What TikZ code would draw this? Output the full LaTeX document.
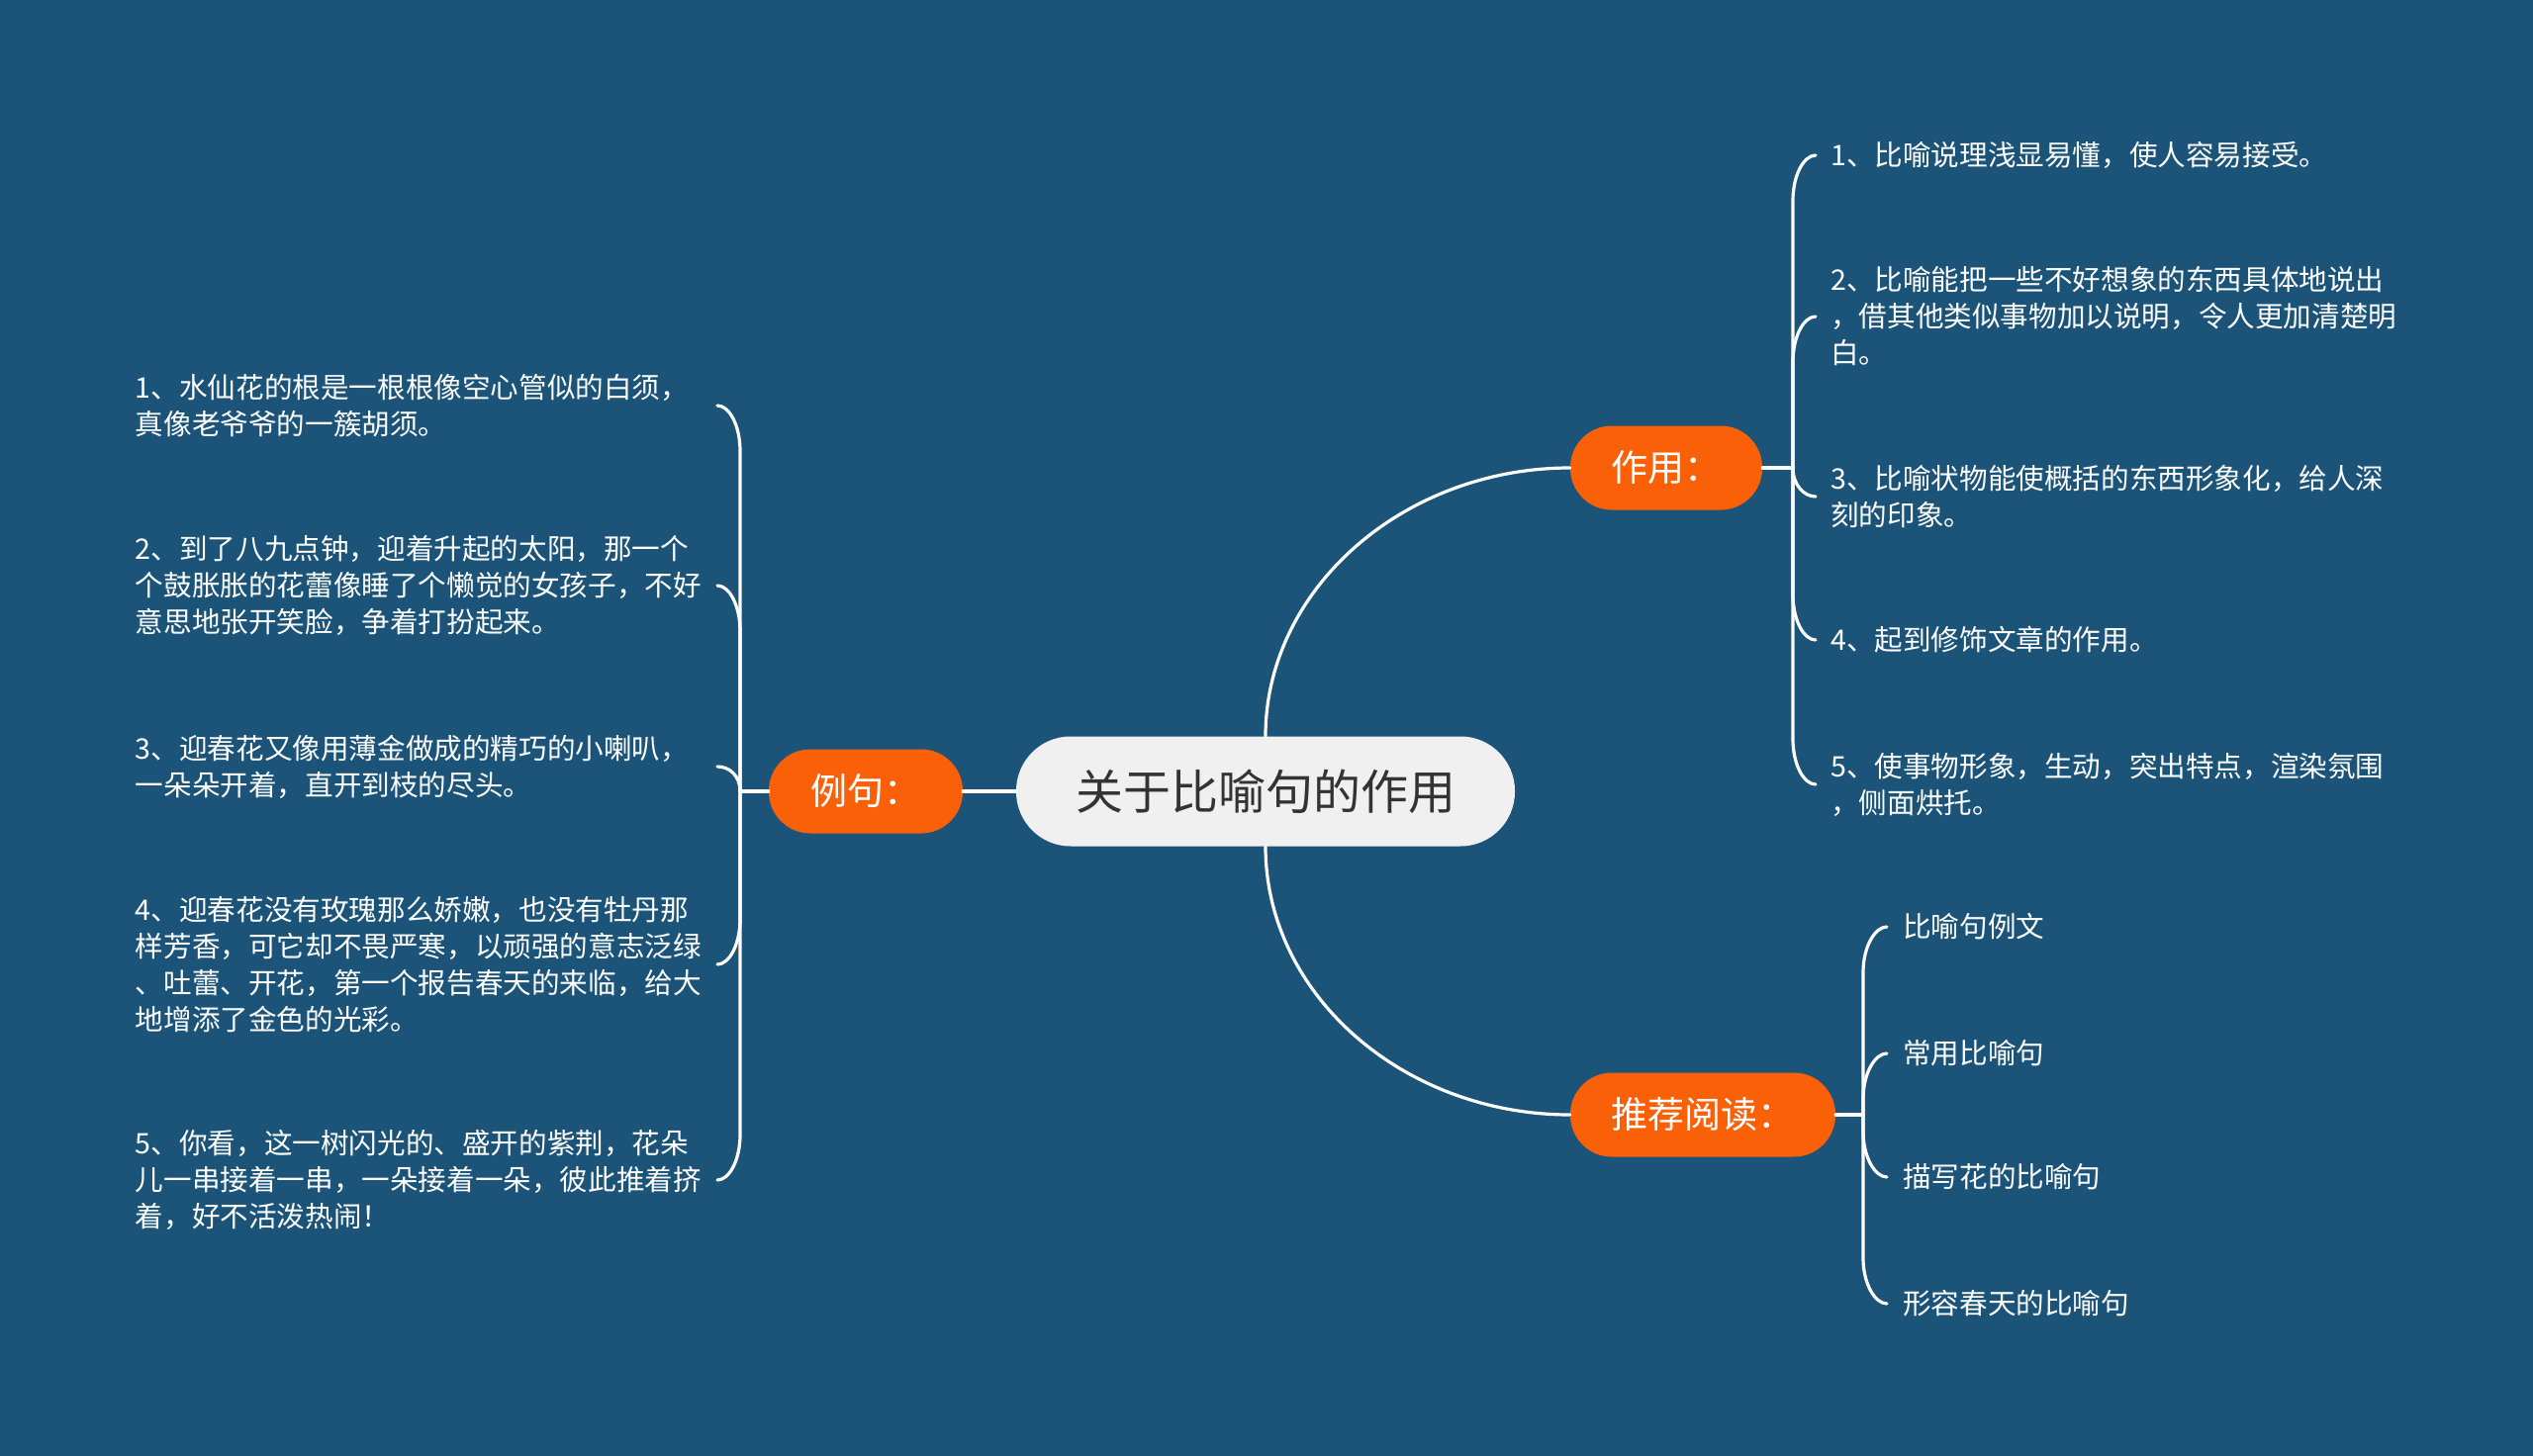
\documentclass[tikz,border=0pt]{standalone}
\usepackage{fontspec}
\newfontfamily\cjk{Noto Sans CJK SC}
\usetikzlibrary{calc}
\definecolor{bg}{RGB}{27,84,120}
\definecolor{orng}{RGB}{249,96,8}
\definecolor{cent}{RGB}{240,240,240}
\definecolor{ctext}{RGB}{51,51,51}
\newcommand\brcurl[2]{%
  \draw[conn] (#1) -- ($(#1 |- #2)!46pt!(#1)$) .. controls ($(#1 |- #2)!20pt!(#1)$) and ($(#2)!12pt!(#1 |- #2)$) .. (#2);}
\begin{document}
\begin{tikzpicture}[x=1pt,y=-1pt,
  conn/.style={draw=white, line width=3.2pt, line cap=round},
  rootnode/.style={fill=cent, text=ctext, rounded corners=55pt, minimum width=504pt, minimum height=111pt, font=\cjk\fontsize{48}{52}\selectfont, inner sep=0pt},
  topic/.style={fill=orng, text=white, rounded corners=42pt, minimum height=85pt, font=\cjk\fontsize{37}{40}\selectfont, inner sep=0pt},
  leaf/.style={text=white, font=\cjk\fontsize{28.6}{37}\selectfont, align=left, inner ysep=2pt},
]
\useasboundingbox (0,0) rectangle (2560,1472);
\fill[bg] (0,0) rectangle (2560,1472);

% hubs
\coordinate (ljh) at (748,800);
\coordinate (zyh) at (1812,473);
\coordinate (tjh) at (1883,1127);

\node[rootnode] (c) at (1279,800) {关于比喻句的作用};
\node[topic, minimum width=194pt] (zy) at (1684,473) {作用：};
\node[topic, minimum width=268pt] (tj) at (1721,1127) {推荐阅读：};
\node[topic, minimum width=196pt] (lj) at (875,800) {例句：};

% left leaves
\node[leaf, text width=588pt, inner xsep=0pt, anchor=east] (l1) at (725,410) {1、水仙花的根是一根根像空心管似的白须，\\真像老爷爷的一簇胡须。};
\node[leaf, text width=588pt, inner xsep=0pt, anchor=east] (l2) at (725,592) {2、到了八九点钟，迎着升起的太阳，那一个\\个鼓胀胀的花蕾像睡了个懒觉的女孩子，不好\\意思地张开笑脸，争着打扮起来。};
\node[leaf, text width=588pt, inner xsep=0pt, anchor=east] (l3) at (725,775) {3、迎春花又像用薄金做成的精巧的小喇叭，\\一朵朵开着，直开到枝的尽头。};
\node[leaf, text width=588pt, inner xsep=0pt, anchor=east] (l4) at (725,975) {4、迎春花没有玫瑰那么娇嫩，也没有牡丹那\\样芳香，可它却不畏严寒，以顽强的意志泛绿\\、吐蕾、开花，第一个报告春天的来临，给大\\地增添了金色的光彩。};
\node[leaf, text width=588pt, inner xsep=0pt, anchor=east] (l5) at (725,1193) {5、你看，这一树闪光的、盛开的紫荆，花朵\\儿一串接着一串，一朵接着一朵，彼此推着挤\\着，好不活泼热闹！};

% right leaves
\node[leaf, text width=650pt, inner xsep=15pt, anchor=west] (r1) at (1835,157) {1、比喻说理浅显易懂，使人容易接受。};
\node[leaf, text width=650pt, inner xsep=15pt, anchor=west] (r2) at (1835,320) {2、比喻能把一些不好想象的东西具体地说出\\，借其他类似事物加以说明，令人更加清楚明\\白。};
\node[leaf, text width=650pt, inner xsep=15pt, anchor=west] (r3) at (1835,502) {3、比喻状物能使概括的东西形象化，给人深\\刻的印象。};
\node[leaf, text width=650pt, inner xsep=15pt, anchor=west] (r4) at (1835,647) {4、起到修饰文章的作用。};
\node[leaf, text width=650pt, inner xsep=15pt, anchor=west] (r5) at (1835,793) {5、使事物形象，生动，突出特点，渲染氛围\\，侧面烘托。};

% reading leaves
\node[leaf, text width=420pt, inner xsep=16pt, anchor=west] (t1) at (1907,937) {比喻句例文};
\node[leaf, text width=420pt, inner xsep=16pt, anchor=west] (t2) at (1907,1065) {常用比喻句};
\node[leaf, text width=420pt, inner xsep=16pt, anchor=west] (t3) at (1907,1190) {描写花的比喻句};
\node[leaf, text width=420pt, inner xsep=16pt, anchor=west] (t4) at (1907,1318) {形容春天的比喻句};

% main connectors (quarter ellipses)
\draw[conn] (c.north) .. controls (1279,595) and (1419,473) .. (zy.west);
\draw[conn] (c.south) .. controls (1279,1006) and (1419,1127) .. (tj.west);
\draw[conn] (c.west) -- (lj.east);
\draw[conn] (lj.west) -- (ljh);
\draw[conn] (zy.east) -- (zyh);
\draw[conn] (tj.east) -- (tjh);

% brackets
\brcurl{ljh}{l1.east}
\brcurl{ljh}{l2.east}
\draw[conn] (ljh) .. controls (748,784) and (737,775) .. (l3.east);
\brcurl{ljh}{l4.east}
\brcurl{ljh}{l5.east}

\brcurl{zyh}{r1.west}
\brcurl{zyh}{r2.west}
\draw[conn] (zyh) .. controls (1812,490) and (1823,502) .. (r3.west);
\brcurl{zyh}{r4.west}
\brcurl{zyh}{r5.west}

\brcurl{tjh}{t1.west}
\brcurl{tjh}{t2.west}
\brcurl{tjh}{t3.west}
\brcurl{tjh}{t4.west}
\end{tikzpicture}
\end{document}
